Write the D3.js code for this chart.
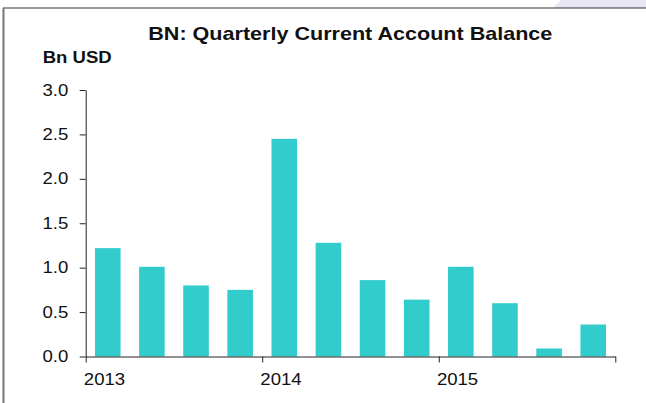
<!DOCTYPE html>
<html>
<head>
<meta charset="utf-8">
<script src="https://cdn.jsdelivr.net/npm/d3@7"></script>
<style>
  body { margin: 0; background: #fff; }
  svg { display: block; }
  text { font-family: "Liberation Sans", Arial, sans-serif; fill: #111; }
</style>
</head>
<body>
<svg id="chart" width="646" height="403"></svg>
<script>
// quarterly current account balance, bn USD
const quarters = ['2013Q1', '2013Q2', '2013Q3', '2013Q4', '2014Q1', '2014Q2', '2014Q3', '2014Q4', '2015Q1', '2015Q2', '2015Q3', '2015Q4'];
const balance = [1.22, 1.01, 0.80, 0.75, 2.45, 1.28, 0.86, 0.64, 1.01, 0.60, 0.09, 0.36];
const years = [2013, 2014, 2015, 2016];
const yTicks = [0, 0.5, 1.0, 1.5, 2.0, 2.5, 3.0];

const svg = d3.select('#chart');

// frame bits of the original slide
svg.append('path')
  .attr('d', 'M553,8 L561,0 L646,0 L646,8 Z')
  .attr('fill', '#e7e7f3');
svg.append('line')
  .attr('x1', 3).attr('x2', 646).attr('y1', 8).attr('y2', 8)
  .attr('stroke', '#333').attr('stroke-width', 1.2);
svg.append('line')
  .attr('x1', 3.5).attr('x2', 3.5).attr('y1', 8).attr('y2', 403)
  .attr('stroke', '#777').attr('stroke-width', 2);

const x = d3.scaleBand().domain(quarters).range([85.7, 615.3])
  .paddingInner(0.42).paddingOuter(0.21);
const xYear = d3.scaleLinear().domain([2013, 2016]).range([85.7, 615.3]);
const y = d3.scaleLinear().domain([0, 3]).range([356.5, 90]);

svg.append('g')
  .selectAll('rect')
  .data(balance)
  .enter()
  .append('rect')
  .attr('x', (d, i) => x(quarters[i]))
  .attr('width', x.bandwidth())
  .attr('y', d => y(d))
  .attr('height', d => y(0) - y(d))
  .attr('fill', '#33cccc');

const yAxis = svg.append('g')
  .attr('transform', 'translate(85.7,0)')
  .call(d3.axisLeft(y).tickValues(yTicks).tickFormat(d3.format('.1f'))
    .tickSize(6).tickSizeOuter(0).tickPadding(11.4));

const xAxis = svg.append('g')
  .attr('transform', 'translate(0,' + y(0) + ')')
  .call(d3.axisBottom(xYear).tickValues(years).tickFormat(d => d === 2016 ? '' : d)
    .tickSize(6).tickSizeOuter(0));

[yAxis, xAxis].forEach(g => {
  g.selectAll('.domain, line').attr('stroke', '#222');
  g.selectAll('text').attr('font-size', 16).attr('fill', '#111')
    .style('font-family', '"Liberation Sans", Arial, sans-serif');
});
xAxis.selectAll('text')
  .attr('text-anchor', 'start')
  .attr('x', -2.4)
  .attr('y', 28.5)
  .attr('dy', 0);

svg.append('text')
  .attr('x', 148.3).attr('y', 40)
  .attr('font-size', 18.5).attr('font-weight', 'bold')
  .attr('textLength', 404).attr('lengthAdjust', 'spacingAndGlyphs')
  .text('BN: Quarterly Current Account Balance');

svg.append('text')
  .attr('x', 42.7).attr('y', 63)
  .attr('font-size', 16).attr('font-weight', 'bold')
  .attr('textLength', 69).attr('lengthAdjust', 'spacingAndGlyphs')
  .text('Bn USD');

// source text is drawn a bit wide, stretch axis labels to match
svg.selectAll('.tick text').each(function () {
  const w = this.getComputedTextLength();
  if (w > 0) {
    d3.select(this).attr('textLength', w * 1.16).attr('lengthAdjust', 'spacingAndGlyphs');
  }
});
</script>
</body>
</html>
